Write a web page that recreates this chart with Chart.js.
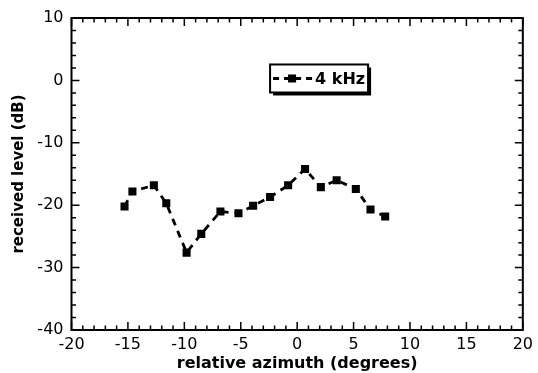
<!DOCTYPE html>
<html>
<head>
<meta charset="utf-8">
<script src="https://cdn.jsdelivr.net/npm/chart.js@4"></script>
<style>
html,body{margin:0;padding:0;background:#fff;}
#wrap{width:538px;height:373px;position:relative;}
</style>
</head>
<body>
<div id="wrap"><canvas id="c" width="538" height="373"></canvas></div>
<script>
const azimuth = [-15.3, -14.6, -12.7, -11.6, -9.8, -8.5, -6.8, -5.2, -3.9, -2.4, -0.8, 0.7, 2.1, 3.5, 5.2, 6.5, 7.8];
const level   = [-20.2, -17.8, -16.8, -19.7, -27.6, -24.6, -21.0, -21.3, -20.1, -18.7, -16.8, -14.2, -17.1, -16.0, -17.4, -20.7, -21.8];
const seriesName = "4 kHz";
const xTitle = "relative azimuth (degrees)";
const yTitle = "received level (dB)";
const xRange = [-20, 20], xMajor = 5, xMinor = 1;
const yRange = [-40, 10], yMajor = 10, yMinor = 2;

const points = azimuth.map((x, i) => ({x: x, y: level[i]}));

const frameTicks = {
  id: 'frameTicks',
  afterDraw(chart) {
    const {ctx, chartArea: a, scales} = chart;
    const xs = scales.x, ys = scales.y;
    ctx.save();
    ctx.strokeStyle = '#000';
    ctx.lineWidth = 2;
    ctx.strokeRect(a.left, a.top, a.right - a.left, a.bottom - a.top);
    ctx.lineWidth = 1.5;
    ctx.beginPath();
    for (let v = xRange[0]; v <= xRange[1] + 1e-9; v += xMinor) {
      const p = xs.getPixelForValue(v);
      const L = (Math.abs(v / xMajor - Math.round(v / xMajor)) < 1e-6) ? 8 : 4.5;
      ctx.moveTo(p, a.bottom); ctx.lineTo(p, a.bottom - L);
      ctx.moveTo(p, a.top); ctx.lineTo(p, a.top + L);
    }
    for (let v = yRange[0]; v <= yRange[1] + 1e-9; v += yMinor) {
      const p = ys.getPixelForValue(v);
      const L = (Math.abs(v / yMajor - Math.round(v / yMajor)) < 1e-6) ? 8 : 4.5;
      ctx.moveTo(a.left, p); ctx.lineTo(a.left + L, p);
      ctx.moveTo(a.right, p); ctx.lineTo(a.right - L, p);
    }
    ctx.stroke();

    // legend box
    const W = a.right - a.left, H = a.bottom - a.top;
    const bx = a.left + 0.44 * W, by = a.top + 0.149 * H, bw = 98, bh = 28;
    ctx.fillStyle = '#000';
    ctx.fillRect(bx + 3, by + 3, bw, bh);
    ctx.fillStyle = '#fff';
    ctx.fillRect(bx, by, bw, bh);
    ctx.lineWidth = 2;
    ctx.strokeRect(bx, by, bw, bh);
    const cy = by + bh / 2;
    ctx.lineWidth = 3;
    ctx.setLineDash([6, 5]);
    ctx.beginPath();
    ctx.moveTo(bx + 3, cy); ctx.lineTo(bx + 44, cy);
    ctx.stroke();
    ctx.setLineDash([]);
    ctx.fillStyle = '#000';
    ctx.fillRect(bx + 18, cy - 4, 8, 8);
    ctx.font = 'bold 16px "DejaVu Sans"';
    ctx.textBaseline = 'middle';
    ctx.textAlign = 'left';
    ctx.fillText(seriesName, bx + 45, cy + 1);
    ctx.restore();
  }
};

new Chart(document.getElementById('c'), {
  type: 'scatter',
  data: {
    datasets: [{
      label: seriesName,
      data: points,
      showLine: true,
      borderColor: '#000',
      backgroundColor: '#000',
      borderWidth: 2.8,
      borderDash: [7, 6],
      pointStyle: 'rect',
      pointRadius: 5.7,
      pointHoverRadius: 5.7,
      pointBorderWidth: 0,
      tension: 0
    }]
  },
  options: {
    responsive: false,
    animation: false,
    devicePixelRatio: 1,
    layout: {padding: {top: 18, right: 14, left: 0, bottom: 0}},
    plugins: {legend: {display: false}, tooltip: {enabled: false}},
    scales: {
      x: {
        type: 'linear',
        min: xRange[0], max: xRange[1],
        grid: {display: false, drawTicks: false},
        border: {display: false},
        ticks: {stepSize: xMajor, color: '#000', padding: 5, font: {family: 'DejaVu Sans', size: 16}, maxRotation: 0},
        title: {display: true, text: xTitle, color: '#000', font: {family: 'DejaVu Sans', size: 16, weight: 'bold'}, padding: {top: 0, bottom: 0}},
        afterFit(s) { s.height = 43; }
      },
      y: {
        type: 'linear',
        min: yRange[0], max: yRange[1],
        grid: {display: false, drawTicks: false},
        border: {display: false},
        ticks: {stepSize: yMajor, color: '#000', padding: 8, font: {family: 'DejaVu Sans', size: 16}},
        title: {display: true, text: yTitle, color: '#000', font: {family: 'DejaVu Sans', size: 15, weight: 'bold'}, padding: {top: 10, bottom: 0}},
        afterFit(s) { s.width = 71.5; }
      }
    }
  },
  plugins: [frameTicks]
});
</script>
</body>
</html>
